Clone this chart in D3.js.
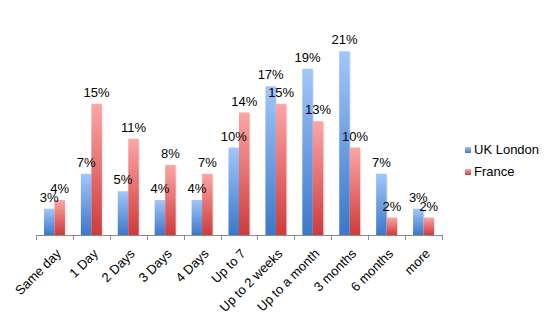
<!DOCTYPE html>
<html>
<head>
<meta charset="utf-8">
<script src="https://cdn.jsdelivr.net/npm/d3@7"></script>
<style>
  html, body { margin: 0; padding: 0; background: #fff; }
  svg { display: block; font-family: "Liberation Sans", Arial, sans-serif; }
</style>
</head>
<body>
<svg id="chart" width="554" height="323"></svg>
<script>
// Time-to-answer categories and share of responses per country (%)
const categories = ["Same day", "1 Day", "2 Days", "3 Days", "4 Days", "Up to 7",
  "Up to 2 weeks", "Up to a month", "3 months", "6 months", "more"];
const seriesNames = ["UK London", "France"];
const ukLondon = [3, 7, 5, 4, 4, 10, 17, 19, 21, 7, 3];
const france = [4, 15, 11, 8, 7, 14, 15, 13, 10, 2, 2];
const seriesValues = [ukLondon, france];

const svg = d3.select("#chart");
const plot = { left: 36, right: 442, top: 16.25, bottom: 235 };

const x0 = d3.scaleBand().domain(categories).range([plot.left, plot.right]).padding(0);
const groupW = 21;
const x1 = d3.scaleBand().domain(seriesNames)
  .range([(x0.bandwidth() - groupW) / 2, (x0.bandwidth() + groupW) / 2]).padding(0);
const y = d3.scaleLinear().domain([0, 25]).range([plot.bottom, plot.top]);

// Vertical gradients per bar: light on top, deep at the base
const defs = svg.append("defs");
const palettes = [
  { id: "gBlue", top: "#a2c6fa", bottom: "#3a78cb" },
  { id: "gRed", top: "#fca6a6", bottom: "#d03a3a" }
];
palettes.forEach(p => {
  const g = defs.append("linearGradient").attr("id", p.id)
    .attr("x1", 0).attr("y1", 0).attr("x2", 0).attr("y2", 1);
  g.append("stop").attr("offset", "0%").attr("stop-color", p.top);
  g.append("stop").attr("offset", "100%").attr("stop-color", p.bottom);
});

const rows = categories.map((c, i) => ({
  cat: c,
  vals: seriesNames.map((s, k) => ({ series: s, k, value: seriesValues[k][i] }))
}));

const groups = svg.append("g").selectAll("g").data(rows).join("g")
  .attr("transform", d => `translate(${x0(d.cat)},0)`);

// soft drop shadow to the right of each bar
groups.selectAll("rect.shadow").data(d => d.vals).join("rect")
  .attr("class", "shadow")
  .attr("x", d => x1(d.series) + 1.5)
  .attr("y", d => y(d.value) + 1.5)
  .attr("width", x1.bandwidth())
  .attr("height", d => plot.bottom - y(d.value) - 1.5)
  .attr("fill", "#000").attr("opacity", 0.07);

groups.selectAll("rect.bar").data(d => d.vals).join("rect")
  .attr("class", "bar")
  .attr("x", d => x1(d.series))
  .attr("y", d => y(d.value))
  .attr("width", x1.bandwidth())
  .attr("height", d => plot.bottom - y(d.value))
  .attr("fill", d => `url(#${palettes[d.k].id})`);

// value labels above bars
groups.selectAll("text.val").data(d => d.vals).join("text")
  .attr("class", "val")
  .attr("x", d => x1(d.series) + x1.bandwidth() / 2)
  .attr("y", d => y(d.value) - 7)
  .attr("text-anchor", "middle")
  .attr("font-size", 13)
  .attr("fill", "#000")
  .text(d => d.value + "%");

// category axis
const axis = svg.append("g");
axis.append("line")
  .attr("x1", plot.left).attr("x2", plot.right)
  .attr("y1", plot.bottom + 0.5).attr("y2", plot.bottom + 0.5)
  .attr("stroke", "#8c8c8c");
const tickPos = categories.map(c => x0(c)).concat([plot.right]);
axis.selectAll("line.tick").data(tickPos).join("line")
  .attr("class", "tick")
  .attr("x1", d => Math.round(d) + 0.5).attr("x2", d => Math.round(d) + 0.5)
  .attr("y1", plot.bottom).attr("y2", plot.bottom + 5)
  .attr("stroke", "#8c8c8c");

axis.selectAll("text").data(categories).join("text")
  .attr("transform", d => `translate(${x0(d) + x0.bandwidth() / 2 + 1},${plot.bottom + 13}) rotate(-45)`)
  .attr("text-anchor", "end")
  .attr("dy", "0.7em")
  .attr("font-size", 13)
  .attr("fill", "#000")
  .text(d => d);

// legend
const legend = svg.append("g").attr("transform", "translate(465,147)");
const li = legend.selectAll("g").data(seriesNames).join("g")
  .attr("transform", (d, i) => `translate(0,${i * 22})`);
li.append("rect").attr("width", 6).attr("height", 6)
  .attr("fill", (d, i) => `url(#${palettes[i].id})`);
li.append("text").attr("x", 9).attr("y", 7)
  .attr("font-size", 13).attr("fill", "#000")
  .text(d => d);
</script>
</body>
</html>
